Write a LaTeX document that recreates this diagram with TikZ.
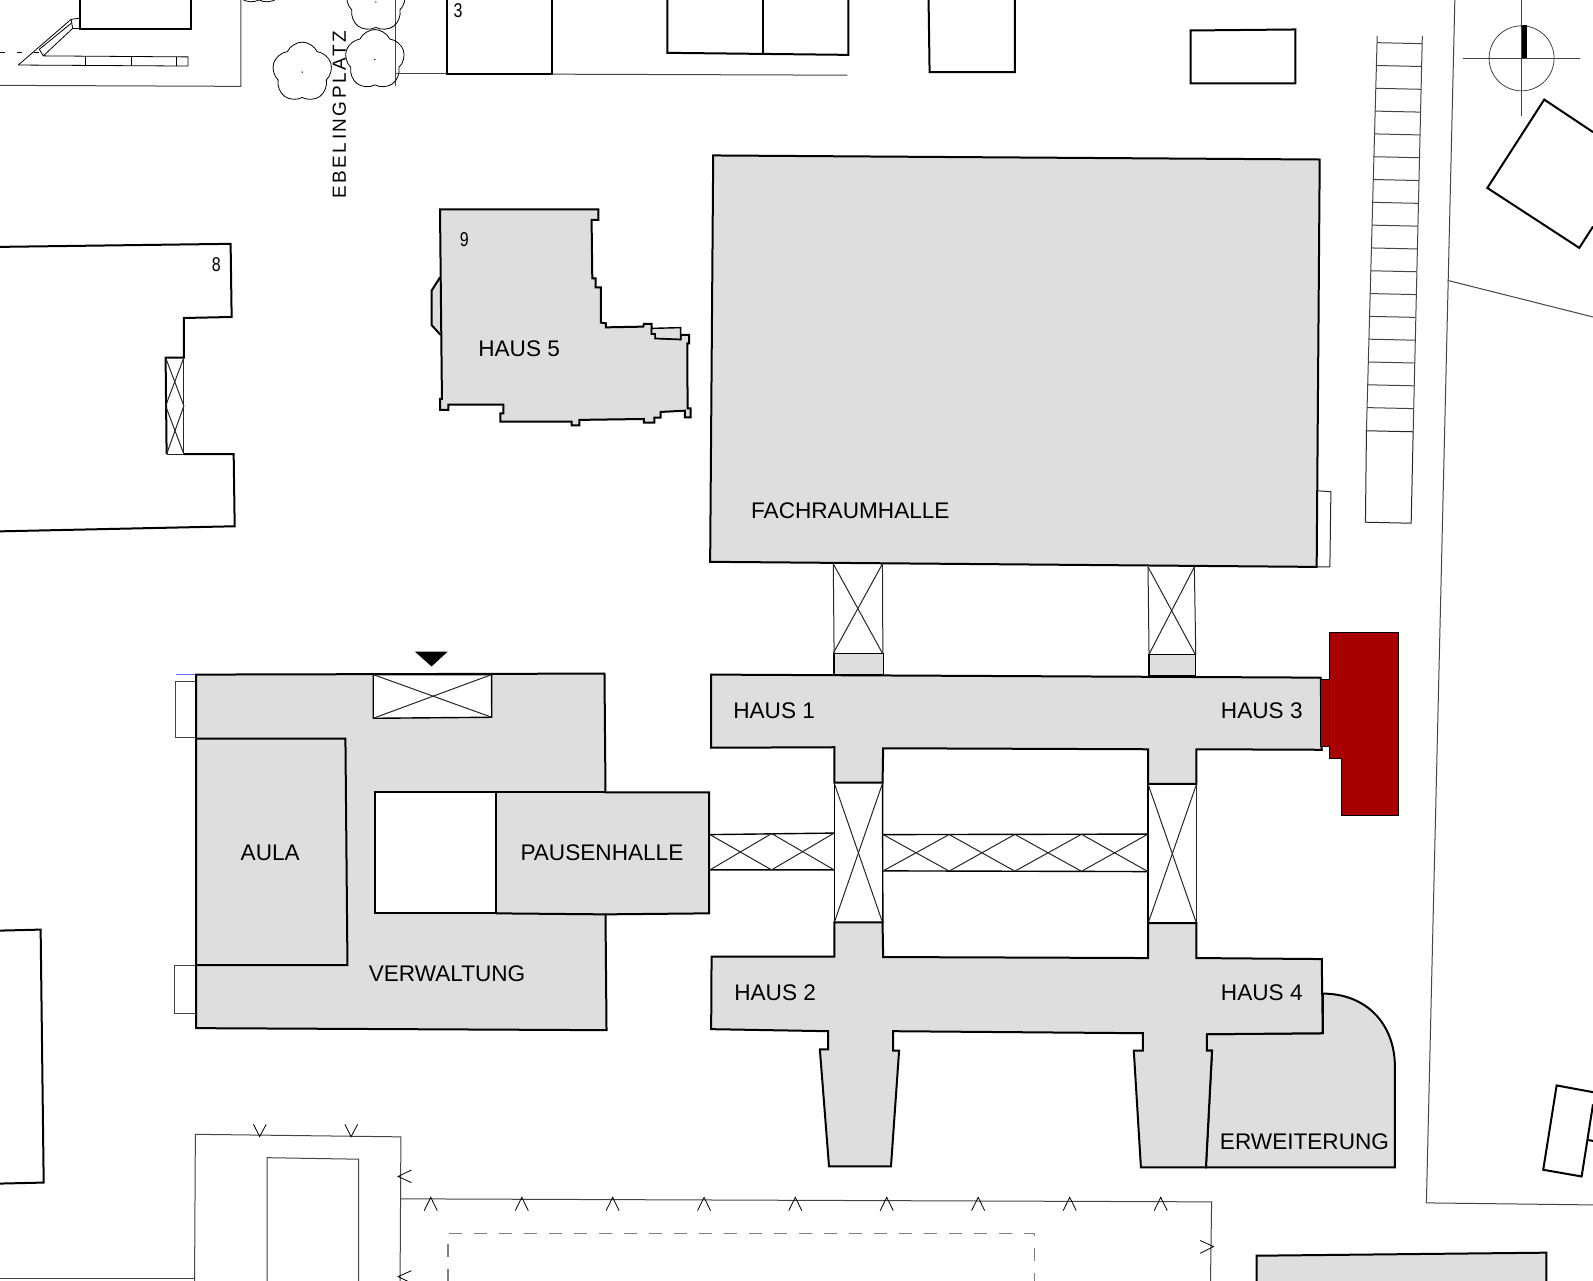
\documentclass[tikz,border=0pt]{standalone}
\usepackage{fontspec}
\setmainfont{Liberation Sans}
\usetikzlibrary{shapes.symbols}
\definecolor{hausgrau}{HTML}{DEDEDE}
\definecolor{neubau}{HTML}{A80000}
\definecolor{strichgrau}{HTML}{444444}
\tikzset{
    haus/.style={draw=black, line width=2pt, fill=hausgrau, line join=miter},
    wand/.style={draw=black, line width=2pt},
    duenn/.style={draw=black!85, line width=1pt},
    steg/.style={draw=black, line width=1.4pt},
    rand/.style={draw=strichgrau, line width=1pt},
    marke/.style={draw=black, line width=0.8pt},
    beschriftung/.style={font=\fontsize{22.6}{24}\selectfont, inner sep=0pt, text=black},
    hausnummer/.style={font=\fontsize{20}{22}\selectfont, inner sep=0pt, xscale=0.8},
    baum/.style={draw=black, line width=0.8pt, cloud, cloud puffs=5, cloud puff arc=130, aspect=1, minimum size=60pt, inner sep=0pt}
}
\begin{document}
\begin{tikzpicture}[x=1.016pt, y=-1.016pt]
    \useasboundingbox (0, 0) rectangle (1568, 1260);

    % Nachbarhaeuser oben
    \draw[wand] (79, 0) -- (79, 29) -- (188, 29) -- (188, 0);
    \draw[wand] (440, 0) -- (440, 73) -- (543, 73) -- (543, 0);
    \draw[wand] (657, 0) -- (657, 52) -- (835, 54) -- (835, 0);
    \draw[wand] (751, 0) -- (751, 53);
    \draw[wand] (914, 0) -- (915, 71) -- (999, 71) -- (999, 0);
    \draw[wand] (1172, 30) -- (1275, 29) -- (1275, 82) -- (1172, 82) -- cycle;
    \node[hausnummer] (nummer3) at (451, 10) {3};

    % Treppe oben links
    \draw[rand] (0, 84) -- (237, 85) -- (237, 0);
    \draw[marke] (18, 64) -- (70, 19) -- (78, 18);
    \draw[marke] (42.6, 55) -- (71.5, 28) -- (78, 28);
    \draw[marke] (38.7, 48.5) -- (70, 23);
    \draw[marke] (70, 19) -- (71.5, 28);
    \draw[marke] (38.7, 48.5) -- (42.6, 55);
    \draw[marke] (18, 64) -- (185, 65) -- (185, 56) -- (42.6, 55);
    \draw[marke] (84, 55) -- (84, 65);
    \draw[marke] (129, 55) -- (129, 65);
    \draw[marke] (174, 56) -- (174, 65);
    \draw[marke, dash pattern=on 5pt off 12pt] (0, 52) -- (38, 52);

    % Ebelingplatz
    \draw[rand] (389.5, 0) -- (389.5, 85);
    \draw[rand] (389.5, 72) -- (440, 72);
    \draw[rand] (543, 73) -- (834, 74);
    \node[baum] (baum1) at (297.5, 71) {};
    \node[baum] (baum2) at (369, 58.6) {};
    \node[baum] (baum3) at (370, 2) {};
    \node[baum] (baum4) at (255, -25) {};
    \fill (baum1.center) circle (0.7);
    \fill (baum2.center) circle (0.7);
    \fill (baum3.center) circle (0.7);
    \node[inner sep=0pt, rotate=90, text=black, font=\fontsize{19}{21}\selectfont\addfontfeature{LetterSpace=13}] (platz) at (334, 113) {EBELINGPLATZ};

    % Nordpfeil
    \draw[strichgrau, line width=0.8pt] (1497.7, 57.4) circle (32);
    \draw[strichgrau, line width=0.8pt] (1440, 57.4) -- (1555, 57.4);
    \draw[strichgrau, line width=0.8pt] (1497.7, 0) -- (1497.7, 114);
    \fill[black] (1498, 25) rectangle (1503, 57.4);

    % Leiter rechts
    \draw[rand] (1355.6, 35.4) -- (1345, 424);
    \draw[rand] (1400, 35.4) -- (1391, 425);
    \foreach \i in {0,...,16} {
        \draw[rand] ({1355.4-\i*0.62}, {42+\i*22.45}) -- ({1399.8-\i*0.55}, {43+\i*22.45});
    }
    \draw[duenn] (1345, 424) -- (1391, 425) -- (1389, 515) -- (1344, 514) -- cycle;

    % Strasse rechts
    \draw[rand] (1432, 0) -- (1404, 1184) -- (1568, 1186);
    \draw[rand] (1425, 276) -- (1568, 312);
    \draw[wand] (1568, 130) -- (1520, 98) -- (1464, 185) -- (1554.5, 244) -- (1568, 223);
    \draw[wand] (1568, 1075) -- (1532.2, 1068.4) -- (1519, 1151.4) -- (1556.8, 1158) -- (1568, 1087);
    \draw[wand] (1562.3, 1122) -- (1568, 1123);

    % Haus 8
    \draw[wand] (0, 243) -- (227, 240) -- (228, 312) -- (181, 313) -- (181, 352) -- (163, 352) -- (164, 447);
    \draw[wand] (181, 447) -- (230, 447) -- (231, 518) -- (0, 523);
    \draw[duenn] (181, 352) -- (181, 447) -- (164, 447);
    \draw[duenn] (163, 352) -- (181, 399.5) -- (164, 447);
    \draw[duenn] (181, 352) -- (163, 399.5) -- (181, 447);
    \node[hausnummer] (nummer8) at (213, 260) {8};

    % Haus unten links
    \draw[wand] (0, 916) -- (40, 915) -- (43, 1164) -- (0, 1165);

    % Haus 5
    \draw[haus] (433.1, 273) -- (424.9, 286) -- (424.9, 320) -- (433.7, 329.7);
    \draw[haus] (433.1, 206) -- (588.9, 206) -- (588.9, 216.5) -- (582.3, 216.5) -- (583, 274) -- (586.3, 274) -- (586.3, 282.8)
        -- (591.5, 282.8) -- (591.5, 317.6) -- (596.4, 318.2) -- (596.4, 322.2) -- (633.2, 321.5) -- (633.8, 318.9) -- (641.4, 318.9)
        -- (641.4, 328.7) -- (645, 328.7) -- (645, 333) -- (669.9, 334) -- (669.9, 329.7) -- (678.4, 329.7) -- (678.4, 338) -- (676.5, 338)
        -- (676.8, 401.9) -- (679.7, 401.9) -- (679.7, 410.7) -- (674.2, 410.7) -- (674.2, 404.2) -- (650.2, 405.5) -- (650.2, 411)
        -- (644, 411) -- (644, 416) -- (633.8, 416) -- (633.8, 412.4) -- (570.2, 413.3) -- (570.2, 418.6) -- (562.6, 418.6) -- (562.6, 415)
        -- (492.4, 415) -- (492.4, 406.8) -- (495.4, 406.8) -- (495.4, 398.2) -- (441.3, 398.2) -- (441.3, 403.5) -- (433.1, 403.5)
        -- (433.1, 392.7) -- (435, 392.7) -- cycle;
    \draw[steg, fill=hausgrau] (641.4, 323.2) -- (669.9, 322.5) -- (669.9, 330) -- (669.9, 334) -- (645, 333) -- (645, 328.7) -- (641.4, 328.7) -- cycle;
    \node[hausnummer] (nummer9) at (457, 236) {9};
    \node[beschriftung] (haus5) at (511, 343) {HAUS 5};

    % Fachraumhalle
    \draw[duenn] (1296, 483) -- (1310, 484) -- (1309, 558) -- (1296, 558);
    \draw[haus] (702, 153) -- (1299, 157) -- (1296, 558) -- (699, 553) -- cycle;
    \node[beschriftung] (fachraum) at (837, 502.5) {FACHRAUMHALLE};

    % Verbindungen zur Fachraumhalle
    \draw[steg, fill=hausgrau] (821, 643) rectangle (869.5, 664);
    \draw[steg, fill=hausgrau] (1131, 644) rectangle (1177, 665);
    \draw[duenn] (820.2, 555) -- (821, 643);
    \draw[duenn] (868.6, 555) -- (869, 643);
    \draw[duenn] (1130, 558) -- (1131, 644);
    \draw[duenn] (1175.6, 558) -- (1177, 644);
    \draw[duenn] (820.2, 555) -- (868.6, 643);
    \draw[duenn] (868.6, 555) -- (820.2, 643);
    \draw[duenn] (1130, 558) -- (1176.5, 644);
    \draw[duenn] (1175.6, 558) -- (1131, 644);

    % Haus 1 und Haus 3
    \draw[haus] (700, 664) -- (1300, 667) -- (1301, 738) -- (1177.7, 737.5) -- (1177.7, 771.6) -- (1130.1, 771.6) -- (1130.1, 737.5)
        -- (869.3, 736.5) -- (868.7, 770.3) -- (821.2, 770.3) -- (821.2, 735.5) -- (700, 736) -- cycle;
    \node[beschriftung] (haus1) at (762, 699.5) {HAUS 1};
    \node[beschriftung] (haus3) at (1242, 699.5) {HAUS 3};

    % Brueckenfelder
    \draw[steg] (821.2, 770.3) -- (821.2, 908);
    \draw[steg] (868.7, 770.3) -- (869, 908);
    \draw[steg] (1130.1, 771.6) -- (1130.1, 908.7);
    \draw[duenn] (1177.7, 771.6) -- (1177.7, 908.7);
    \draw[duenn] (821.2, 771) -- (868.7, 908);
    \draw[duenn] (868.7, 771) -- (821.2, 908);
    \draw[duenn] (1130.1, 772) -- (1177.7, 908.7);
    \draw[duenn] (1177.7, 772) -- (1130.1, 908.7);
    \draw[steg] (698.8, 821.5) -- (821, 820) (698.8, 856.2) -- (821, 856.2);
    \draw[duenn] (698.8, 821.5) -- (759.5, 856.2) -- (821, 820);
    \draw[duenn] (698.8, 856.2) -- (759.5, 820.5) -- (821, 856.2);
    \draw[steg] (869.3, 821.5) -- (1130, 821) (869.3, 857.2) -- (1130, 857.9);
    \draw[duenn] (869.3, 821.5) -- (934.3, 857.4) -- (998.9, 821.3) -- (1064.5, 857.6) -- (1130, 821);
    \draw[duenn] (869.3, 857.2) -- (934.3, 821.4) -- (998.9, 857.5) -- (1064.5, 821.2) -- (1130, 857.9);

    % Erweiterung
    \draw[haus] (1302, 978) .. controls (1345, 978) and (1373, 1008) .. (1373, 1050) -- (1373, 1149) -- (1187, 1149) -- (1193, 1034)
        -- (1188, 1034) -- (1188, 1018) -- (1302, 1017) -- cycle;
    \node[beschriftung] (erweiterung) at (1284, 1123.5) {ERWEITERUNG};

    % Haus 2 und Haus 4
    \draw[haus] (700.4, 941.5) -- (821.2, 941.5) -- (821.2, 908) -- (868.7, 908) -- (869.3, 942) -- (1130.1, 943) -- (1130.1, 908.7) -- (1177.7, 908.7)
        -- (1177.7, 943) -- (1301, 944) -- (1302, 1017) -- (1188, 1018) -- (1188, 1034) -- (1193, 1034) -- (1187, 1149) -- (1123, 1149)
        -- (1116, 1034) -- (1125, 1034) -- (1125, 1017) -- (879, 1015) -- (879, 1034) -- (885, 1034) -- (877, 1148) -- (816, 1148)
        -- (807, 1033) -- (815, 1033) -- (815, 1015) -- (700, 1013) -- cycle;
    \node[beschriftung] (haus2) at (763, 977.5) {HAUS 2};
    \node[beschriftung] (haus4) at (1242, 977.5) {HAUS 4};

    % Neubau
    \draw[draw=black, line width=1pt, fill=neubau] (1300, 668.6) -- (1309, 668.6) -- (1309, 734.8) -- (1300, 734.8) -- cycle;
    \draw[draw=black, line width=1pt, fill=neubau] (1309, 622.7) -- (1376.2, 622.7) -- (1376.2, 802.7) -- (1320.8, 802.7) -- (1320.8, 746.6) -- (1309, 746.6) -- cycle;

    % Verwaltung und Aula
    \draw[rand] (193, 671) -- (173, 671) -- (173, 726) -- (193, 726);
    \draw[rand] (193, 950) -- (172, 950) -- (172, 998) -- (193, 998);
    \draw[blue!60, line width=0.8pt] (173, 664) -- (193, 664);
    \draw[haus] (193, 664) -- (595, 663) -- (596, 780) -- (698, 780) -- (698, 899) -- (596, 900) -- (597, 1014) -- (193, 1012) -- cycle;
    \draw[haus] (193, 727) -- (340, 727) -- (342, 950) -- (193, 950) -- cycle;
    \draw[wand, fill=white] (369, 780) rectangle (488, 899);
    \draw[wand] (488, 780) -- (596, 780);
    \draw[wand] (488, 899) -- (596, 900);
    \draw[steg, fill=white] (367.4, 664) -- (483.9, 664) -- (484, 706) -- (367.4, 707) -- cycle;
    \draw[duenn] (367.4, 664) -- (484, 706);
    \draw[duenn] (483.9, 664) -- (367.4, 707);
    \fill[black] (408.4, 641.4) -- (440.6, 641.4) -- (424.8, 656) -- cycle;
    \node[beschriftung] (aula) at (266, 839.5) {AULA};
    \node[beschriftung] (pausenhalle) at (592.5, 839.5) {PAUSENHALLE};
    \node[beschriftung] (verwaltung) at (440, 958.5) {VERWALTUNG};

    % Halle unten
    \draw[rand] (191.5, 1262) -- (192.3, 1116.5) -- (394.6, 1119) -- (393.8, 1262);
    \draw[rand] (0, 1258) -- (191.5, 1258);
    \draw[rand] (263, 1262) -- (263, 1139.5) -- (353, 1141) -- (353, 1262);
    \draw[rand] (394.6, 1180) -- (1192.6, 1183) -- (1191.5, 1262);
    \draw[marke] (249.5, 1106.7) -- (255.6, 1118.8) -- (262, 1106.7);
    \draw[marke] (339.5, 1106.7) -- (345.6, 1118.8) -- (352, 1106.7);
    \draw[marke] (405, 1151.6) -- (391.9, 1158) -- (405, 1164);
    \draw[marke] (405, 1250.7) -- (391.9, 1256.5) -- (405, 1263);
    \draw[marke] (1181.3, 1221) -- (1194.5, 1227) -- (1181.3, 1233.6);
    \foreach \x in {424, 513.6, 603, 693, 782.8, 872.8, 962.8, 1052.9, 1142.5} {
        \draw[marke] (\x-6.4, 1191.6) -- (\x, 1178.5) -- (\x+6.4, 1191.6);
    }
    \draw[gray, line width=1.1pt, dash pattern=on 13pt off 12pt] (441, 1262) -- (441, 1214) -- (1018.6, 1214) -- (1018.6, 1262);
    \draw[haus] (1237, 1262) -- (1237, 1236) -- (1522, 1233) -- (1522, 1262);
\end{tikzpicture}
\end{document}
